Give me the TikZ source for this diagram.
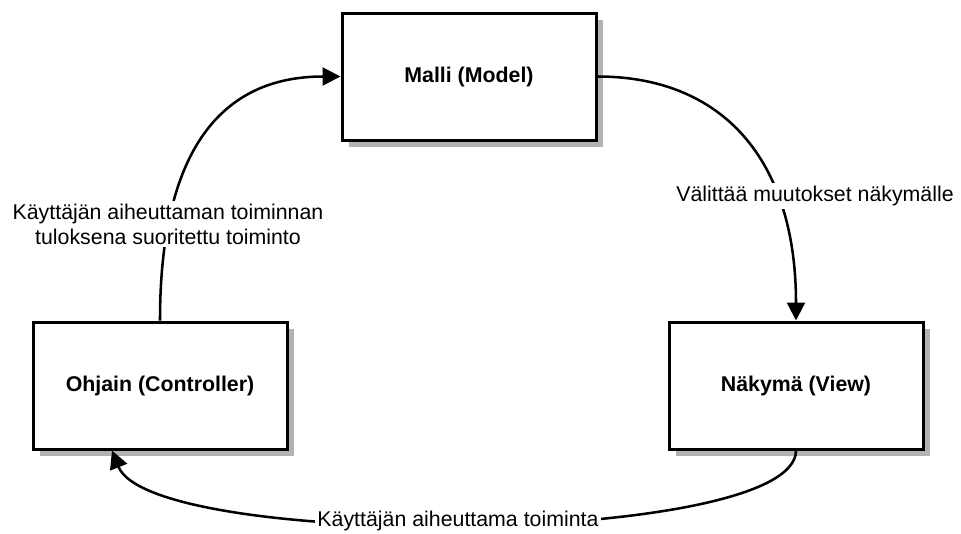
\documentclass[tikz,border=0pt]{standalone}
\usepackage{fontspec}
\setmainfont{Liberation Sans}
\usetikzlibrary{arrows.meta,shadows}

\tikzset{
  block/.style={draw=black, fill=white, line width=2.25pt,
    minimum width=190.5pt, minimum height=95.25pt, inner sep=0pt,
    font=\fontsize{16}{19}\selectfont\bfseries,
    drop shadow={shadow xshift=5.25pt, shadow yshift=-5.25pt,
      fill=black!30, opacity=1}},
  flow/.style={line width=1.9pt,
    -{Triangle[length=13.5pt, width=13.5pt]}},
  tag/.style={fill=white, inner sep=2pt, align=center,
    font=\fontsize{16}{18.75}\selectfont}
}

\begin{document}
\begin{tikzpicture}[x=0.75pt, y=-0.75pt]
  \useasboundingbox (0,0) rectangle (961,533);

  % the three components
  \node[block] (malli)  at (469,76.5)  {Malli (Model)};
  \node[block] (ohjain) at (160,385.5) {Ohjain (Controller)};
  \node[block] (nakyma) at (796,385.5) {Näkymä (View)};

  % controller -> model
  \draw[flow] (ohjain.north) .. controls +(0,-172) and +(-118,0) .. (malli.west);
  \node[tag] (l1) at (168,224) {Käyttäjän aiheuttaman toiminnan\\tuloksena suoritettu toiminto};

  % model -> view
  \draw[flow] (malli.east) .. controls +(124,0) and +(0,-162) .. (nakyma.north);
  \node[tag] (l2) at (815,196) {Välittää muutokset näkymälle};

  % view -> controller
  \draw[flow] (nakyma.south) .. controls +(0,96) and +(40,100) .. ([xshift=-36pt]ohjain.south);
  \node[tag] (l3) at (458,521) {Käyttäjän aiheuttama toiminta};
\end{tikzpicture}
\end{document}
